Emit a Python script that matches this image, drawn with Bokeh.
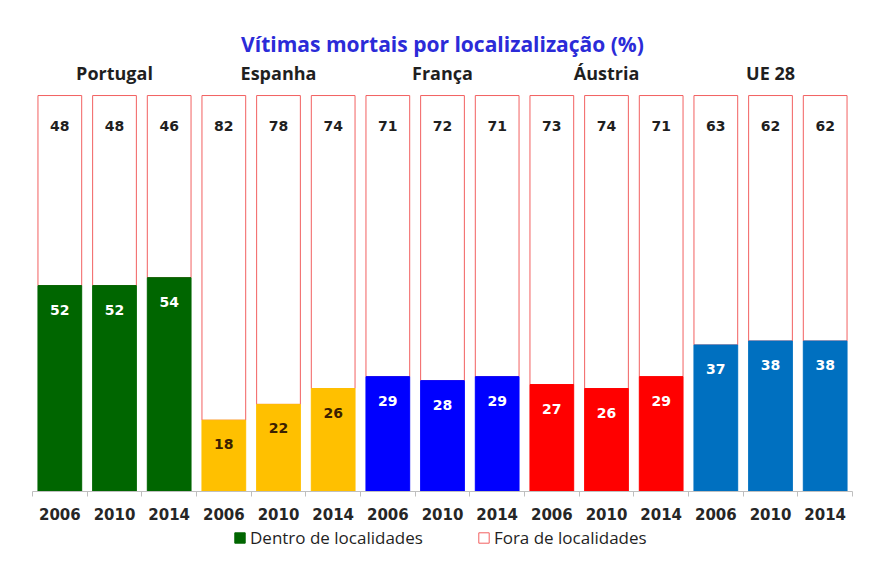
from bokeh.plotting import figure
from bokeh.layouts import column
from bokeh.models import Range1d, FixedTicker, ColumnDataSource, Legend, LegendItem
from bokeh.core.properties import value
from bokeh.embed import file_html
from bokeh.resources import INLINE

title_text = "Vítimas mortais por localizalização (%)"
countries = ["Portugal", "Espanha", "França", "Áustria", "UE 28"]
years = ["2006", "2010", "2014"]
dentro = [52, 52, 54, 18, 22, 26, 29, 28, 29, 27, 26, 29, 37, 38, 38]
fora = [48, 48, 46, 82, 78, 74, 71, 72, 71, 73, 74, 71, 63, 62, 62]
country_colors = ["#006600", "#FFC000", "#0000FF", "#FF0000", "#0070C0"]
label_colors = ["#FFFFFF", "#3B2000", "#FFFFFF", "#FFFFFF", "#FFFFFF"]
legend_labels = ["Dentro de localidades", "Fora de localidades"]

n_years = len(years)
xs = list(range(len(dentro)))
year_labels = [years[i % n_years] for i in xs]
bar_colors = [country_colors[i // n_years] for i in xs]
in_label_colors = [label_colors[i // n_years] for i in xs]
totals = [d + f for d, f in zip(dentro, fora)]

src = ColumnDataSource(dict(
    x=xs, dentro=dentro, fora=fora, total=totals, color=bar_colors,
    lc=in_label_colors,
    dtxt=[str(v) for v in dentro], ftxt=[str(v) for v in fora],
))

W, H1, H2 = 859, 526, 23
FORA_LINE = "#F26060"
p = figure(width=W, height=H1, output_backend="svg", toolbar_location=None,
           title=None,
           x_range=Range1d(-0.5, len(xs) - 0.5), y_range=Range1d(0, 124.0),
           min_border_left=32, min_border_right=7, min_border_top=0,
           min_border_bottom=H1 - 491, y_axis_location=None)
p.outline_line_color = None
p.xgrid.grid_line_color = None
p.ygrid.grid_line_color = None
p.background_fill_color = "white"
p.border_fill_color = "white"

BW = 0.8
r_fora = p.vbar(x="x", bottom="dentro", top="total", width=BW, source=src,
                fill_color="white", line_color=FORA_LINE, line_width=1)
r_dentro = p.vbar(x="x", bottom=0, top="dentro", width=BW, source=src,
                  fill_color="color", line_color="color", line_width=1)

p.text(x="x", y="dentro", text="dtxt", source=src, text_color="lc",
       text_align="center", text_baseline="middle", y_offset=24,
       text_font=value("DejaVu Sans"), text_font_style="bold",
       text_font_size="14px")
p.text(x="x", y="total", text="ftxt", source=src, text_color="#1F1F1F",
       text_align="center", text_baseline="middle", y_offset=30,
       text_font=value("DejaVu Sans"), text_font_style="bold",
       text_font_size="14px")

group_x = [sum(xs[i * n_years:(i + 1) * n_years]) / n_years for i in range(len(countries))]
p.text(x=group_x, y=[105.6] * len(countries), text=countries,
       text_color="#1F1F1F", text_align="center", text_baseline="middle",
       text_font=value("Open Sans"), text_font_style="bold",
       text_font_size="18px")
p.text(x=[(xs[0] + xs[-1]) / 2], y=[113.1], text=[title_text],
       text_color="#2B2BD8", text_align="center", text_baseline="middle",
       text_font=value("Open Sans"), text_font_style="bold",
       text_font_size="21px")

ax = p.xaxis[0]
ax.ticker = FixedTicker(ticks=xs, minor_ticks=[i - 0.5 for i in range(len(xs) + 1)])
ax.major_label_overrides = {i: year_labels[i] for i in xs}
ax.axis_line_color = "#BFBFBF"
ax.major_tick_line_color = None
ax.major_tick_out = 0
ax.major_tick_in = 0
ax.minor_tick_line_color = "#BFBFBF"
ax.minor_tick_out = 5
ax.minor_tick_in = 0
ax.major_label_standoff = 11
ax.major_label_text_font = "DejaVu Sans"
ax.major_label_text_font_style = "bold"
ax.major_label_text_font_size = "15px"
ax.major_label_text_color = "#262626"

# legend strip below the chart; its swatch renderers hold a single zero-height,
# off-range point so that nothing but the legend is visible
q = figure(width=W, height=H2, output_backend="svg", toolbar_location=None,
           title=None, x_range=Range1d(0, 1), y_range=Range1d(0, 1),
           min_border=0, x_axis_location=None, y_axis_location=None)
q.outline_line_color = None
q.xgrid.grid_line_color = None
q.ygrid.grid_line_color = None
q.border_fill_color = "white"
q.background_fill_color = "white"
lg_d = q.vbar(x=[100], bottom=[-100], top=[-100], width=0.01,
              fill_color=country_colors[0], line_color=country_colors[0])
lg_f = q.vbar(x=[100], bottom=[-100], top=[-100], width=0.01,
              fill_color="white", line_color=FORA_LINE)
legend = Legend(items=[
    LegendItem(label=legend_labels[0], renderers=[lg_d], index=0),
    LegendItem(label=legend_labels[1], renderers=[lg_f], index=0),
], orientation="horizontal", location=(201, 0))
legend.border_line_color = None
legend.background_fill_alpha = 0
legend.padding = 0
legend.margin = 0
legend.spacing = 54
legend.glyph_width = 13
legend.glyph_height = 13
legend.label_standoff = 4
legend.label_height = 13
legend.label_text_font = "Open Sans"
legend.label_text_font_size = "17px"
legend.label_text_color = "#1F1F1F"
q.add_layout(legend)

layout = column(p, q, spacing=0)
open("out.html", "w").write(file_html(layout, INLINE))
